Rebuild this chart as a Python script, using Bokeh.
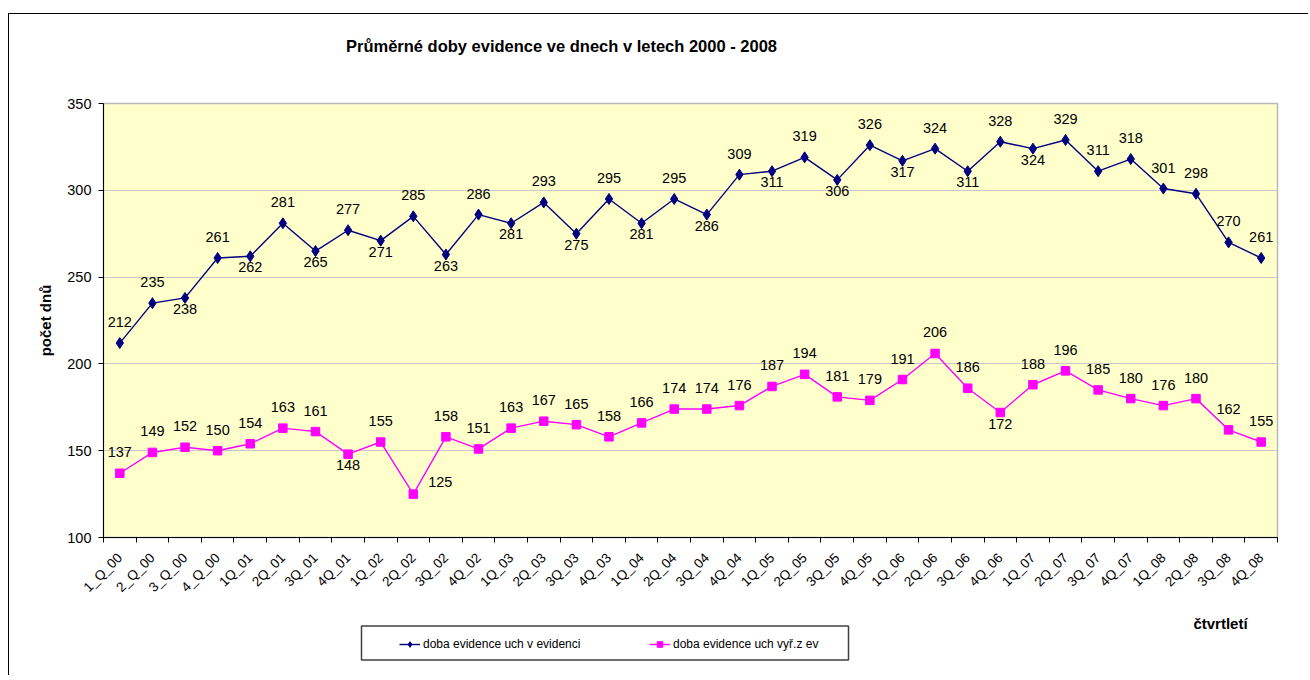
from bokeh.plotting import figure
from bokeh.layouts import column
from bokeh.models import Range1d, FixedTicker, Legend, LegendItem, ColumnDataSource
from bokeh.embed import file_html
from bokeh.resources import INLINE
from bokeh.core.properties import value

quarters = ["1_Q_00", "2_Q_00", "3_Q_00", "4_Q_00",
            "1Q_01", "2Q_01", "3Q_01", "4Q_01",
            "1Q_02", "2Q_02", "3Q_02", "4Q_02",
            "1Q_03", "2Q_03", "3Q_03", "4Q_03",
            "1Q_04", "2Q_04", "3Q_04", "4Q_04",
            "1Q_05", "2Q_05", "3Q_05", "4Q_05",
            "1Q_06", "2Q_06", "3Q_06", "4Q_06",
            "1Q_07", "2Q_07", "3Q_07", "4Q_07",
            "1Q_08", "2Q_08", "3Q_08", "4Q_08"]

v_evidenci = [212, 235, 238, 261, 262, 281, 265, 277, 271, 285, 263, 286,
              281, 293, 275, 295, 281, 295, 286, 309, 311, 319, 306, 326,
              317, 324, 311, 328, 324, 329, 311, 318, 301, 298, 270, 261]

vyr_z_ev = [137, 149, 152, 150, 154, 163, 161, 148, 155, 125, 158, 151,
            163, 167, 165, 158, 166, 174, 174, 176, 187, 194, 181, 179,
            191, 206, 186, 172, 188, 196, 185, 180, 176, 180, 162, 155]

y_ticks = [100, 150, 200, 250, 300, 350]

series_names = ["doba evidence uch v evidenci", "doba evidence uch vyř.z ev"]
chart_title = "Průměrné doby evidence ve dnech v letech 2000 - 2008"
y_title = "počet dnů"
x_title = "čtvrtletí"

# label placement: a = above, b = below, r = right
blue_place = ["a", "a", "b", "a", "b", "a", "b", "a", "b", "a", "b", "a",
              "b", "a", "b", "a", "b", "a", "b", "a", "b", "a", "b", "a",
              "b", "a", "b", "a", "b", "a", "a", "a", "a", "a", "a", "a"]
pink_place = ["a", "a", "a", "a", "a", "a", "a", "b", "a", "r", "a", "a",
              "a", "a", "a", "a", "a", "a", "a", "a", "a", "a", "a", "a",
              "a", "a", "a", "b", "a", "a", "a", "a", "a", "a", "a", "a"]

FONT = "Liberation Sans"
BLUE = "#000080"
PINK = "#FF00FF"
n = len(quarters)
xs = [i + 0.5 for i in range(n)]

# page geometry
OX, OY = 9.5, 14.5            # origin of the figures' canvases on the page
PL, PR, PT, PB = 103, 1277, 103, 537   # plot area on the page
W = 1300
HT = 60                        # title strip
H1 = 536                       # main chart
H2 = 66                        # legend strip
BL = round(PL - OX)
BR = round(W - (PR - OX))
MY = OY + HT                   # page y of main figure top
SY = MY + H1                   # page y of legend strip top
BORDER = "1.5px solid black"
TOPB = 30
BOTB = H1 - TOPB - (PB - PT)


def strip(height, top):
    f = figure(width=W, height=height, x_range=Range1d(PL, PR), y_range=Range1d(top + height, top),
               output_backend="svg", toolbar_location=None,
               min_border_left=BL, min_border_right=BR, min_border_top=0, min_border_bottom=0)
    f.axis.visible = False
    f.grid.visible = False
    f.outline_line_color = None
    f.background_fill_color = "white"
    f.border_fill_color = "white"
    return f


# ---- title strip
t = strip(HT, OY)
t.margin = (13, 0, 0, 8)
t.styles = {"border-top": BORDER, "border-left": BORDER}
t.text(x=[561], y=[46], text=[chart_title], text_align="center", text_baseline="middle",
       text_font=value(FONT), text_font_size="16.5px", text_font_style="bold", text_color="black")

# ---- main chart
p = figure(width=W, height=H1, x_range=Range1d(0, n), y_range=Range1d(y_ticks[0], y_ticks[-1]),
           output_backend="svg", toolbar_location=None,
           min_border_left=BL, min_border_right=BR,
           min_border_top=TOPB, min_border_bottom=BOTB)
p.margin = (0, 0, 0, 8)
p.styles = {"border-left": BORDER}

p.background_fill_color = "#FFFFCC"
p.border_fill_color = "white"
p.outline_line_color = "#B8B8B8"
p.outline_line_width = 1.5

p.xgrid.visible = False
p.ygrid.ticker = FixedTicker(ticks=y_ticks)
p.ygrid.grid_line_color = "#C8C8C8"
p.ygrid.grid_line_width = 1

xa = p.xaxis[0]
xa.ticker = FixedTicker(ticks=xs, minor_ticks=list(range(n + 1)))
xa.major_label_overrides = {x: q for x, q in zip(xs, quarters)}
xa.major_label_orientation = 0.785398
xa.major_tick_out = 0
xa.major_tick_in = 0
xa.minor_tick_out = 5
xa.minor_tick_in = 0
xa.minor_tick_line_color = "black"
xa.axis_line_color = "black"
xa.major_label_standoff = 13
xa.major_label_text_font = FONT
xa.major_label_text_font_size = "13.5px"
xa.major_label_text_color = "black"

ya = p.yaxis[0]
ya.ticker = FixedTicker(ticks=y_ticks)
ya.minor_tick_line_color = None
ya.major_tick_out = 5
ya.major_tick_in = 0
ya.major_tick_line_color = "black"
ya.axis_line_color = "black"
ya.major_label_standoff = 7
ya.major_label_text_font = FONT
ya.major_label_text_font_size = "14.5px"
ya.major_label_text_color = "black"
ya.axis_label = y_title
ya.axis_label_standoff = 10
ya.axis_label_text_font = FONT
ya.axis_label_text_font_size = "15px"
ya.axis_label_text_font_style = "bold"
ya.axis_label_text_color = "black"

p.line(xs, v_evidenci, line_color=BLUE, line_width=1.4)
p.scatter(xs, v_evidenci, marker="diamond", size=11, fill_color=BLUE, line_color=BLUE)
p.line(xs, vyr_z_ev, line_color=PINK, line_width=1.4)
p.scatter(xs, vyr_z_ev, marker="square", size=8.5, fill_color=PINK, line_color=PINK)


def offsets(place):
    dx, dy = [], []
    for k in place:
        if k == "a":
            dx.append(0); dy.append(-21)
        elif k == "b":
            dx.append(0); dy.append(11)
        else:
            dx.append(27); dy.append(-12)
    return dx, dy


for vals, place in ((v_evidenci, blue_place), (vyr_z_ev, pink_place)):
    dx, dy = offsets(place)
    src = ColumnDataSource(dict(x=xs, y=vals, t=[str(v) for v in vals], dx=dx, dy=dy))
    p.text(x="x", y="y", text="t", x_offset="dx", y_offset="dy", source=src,
           text_align="center", text_baseline="middle", text_color="black",
           text_font=value(FONT), text_font_size="14.5px")

# ---- legend strip (page pixel coordinates, y downward)
s = strip(H2, SY)
s.margin = (0, 0, 0, 8)
s.styles = {"border-left": BORDER}

s.quad(left=[361], right=[848], top=[627], bottom=[661],
       fill_color=None, line_color="#404040", line_width=1.5)
s.text(x=[1220], y=[624], text=[x_title], text_align="center", text_baseline="middle",
       text_font=value(FONT), text_font_size="15px", text_font_style="bold", text_color="black")

# legend sample renderers (outside the visible strip)
lb = s.line([0, 10], [0, 0], line_color=BLUE, line_width=1.4)
mb = s.scatter([5], [0], marker="diamond", size=11, fill_color=BLUE, line_color=BLUE)
lp = s.line([0, 10], [0, 0], line_color=PINK, line_width=1.4)
mp = s.scatter([5], [0], marker="square", size=8.5, fill_color=PINK, line_color=PINK)

legend = Legend(items=[LegendItem(label=series_names[0], renderers=[lb, mb]),
                       LegendItem(label=series_names[1], renderers=[lp, mp])],
                orientation="horizontal", location=(400 - 1 - PL, (SY + H2) - 652),
                padding=9, spacing=0, label_width=226, glyph_width=21, glyph_height=14,
                label_standoff=3, border_line_color=None, background_fill_alpha=0,
                label_text_font=FONT, label_text_font_size="12px", label_text_color="black")
s.add_layout(legend, "center")

root = column(t, p, s, spacing=0)
open("out.html", "w").write(file_html(root, INLINE))
